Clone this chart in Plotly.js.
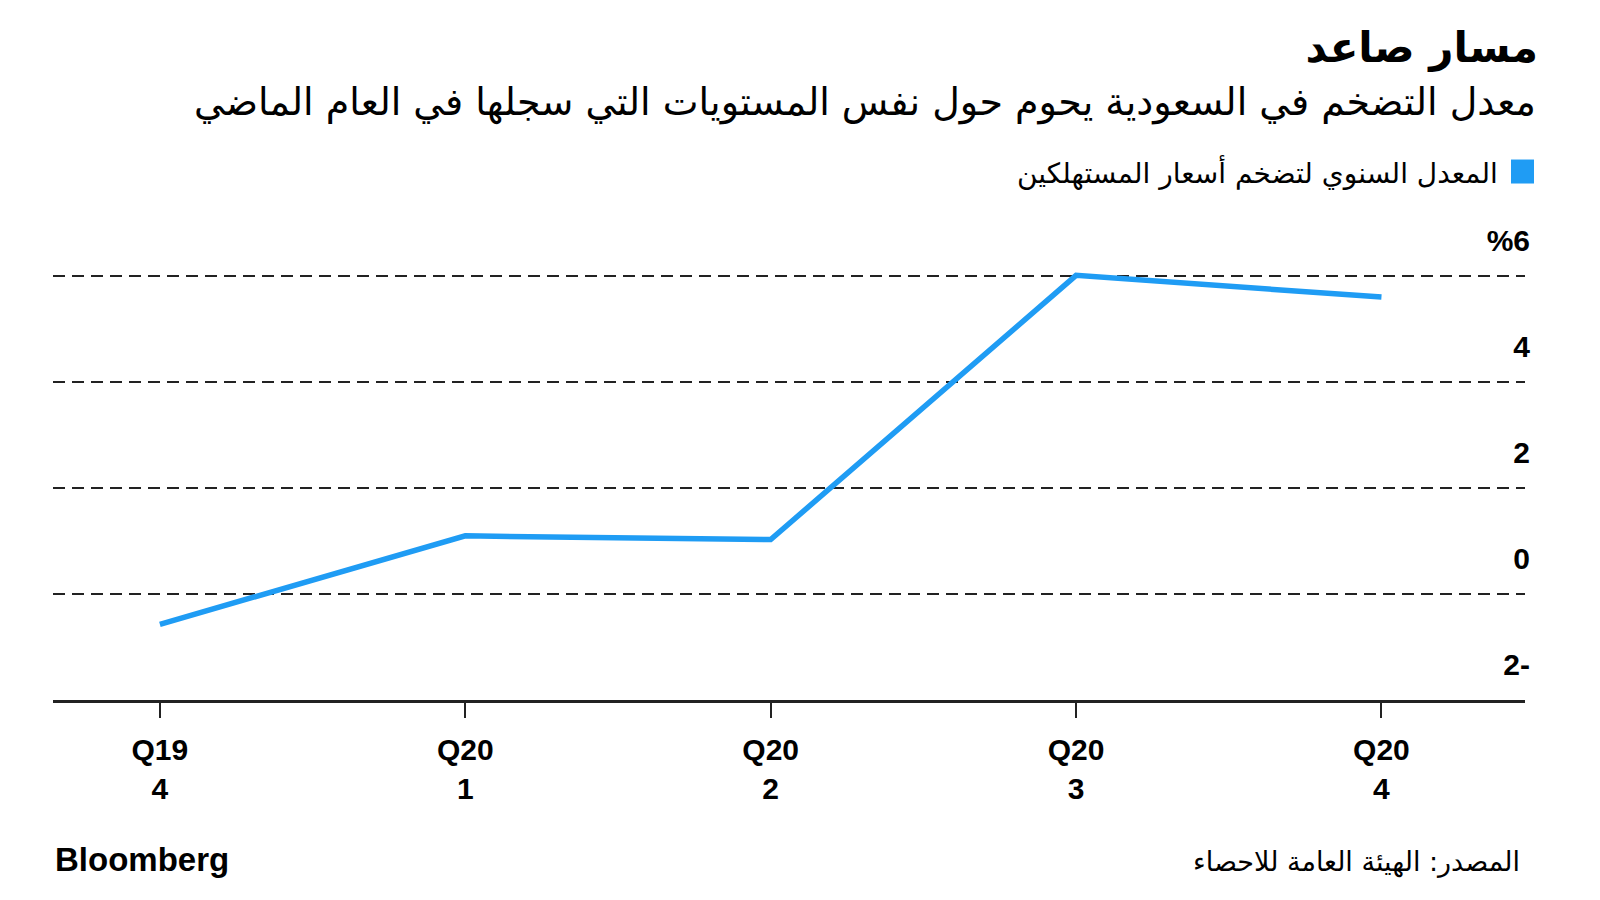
<!DOCTYPE html>
<html>
<head>
<meta charset="utf-8">
<script src="https://cdn.plot.ly/plotly-3.0.1.min.js"></script>
<style>html,body{margin:0;padding:0;background:#fff;}#chart{width:1600px;height:900px;}</style>
</head>
<body>
<div id="chart"></div>
<script>
const categories = ["Q19<br>4", "Q20<br>1", "Q20<br>2", "Q20<br>3", "Q20<br>4"];
const inflation = [-0.57, 1.10, 1.03, 6.02, 5.61];
const yTickVals = [-2, 0, 2, 4, 6];
const yTickText = ["2-", "0", "2", "4", "%6"];

const titleText = "مسار صاعد";
const subtitleText = "معدل التضخم في السعودية يحوم حول نفس المستويات التي سجلها في العام الماضي";
const seriesName = "المعدل السنوي لتضخم أسعار المستهلكين";
const sourceText = "المصدر: الهيئة العامة للاحصاء";
const brandText = "Bloomberg";

const BLUE = "#1f9cf4";
const INK = "#222222";
const AR = "DejaVu Sans, Noto Sans, sans-serif";
const LAT = "Liberation Sans, Arial, sans-serif";

const trace = {
  type: "scatter",
  mode: "lines",
  x: categories,
  y: inflation,
  line: {color: BLUE, width: 5.5},
  showlegend: false,
  hoverinfo: "skip"
};

const layout = {
  width: 1600, height: 900,
  margin: {l: 53, r: 75, t: 196.5, b: 200},
  paper_bgcolor: "#fff", plot_bgcolor: "#fff",
  showlegend: false,
  title: {
    text: "<b>" + titleText + "</b>",
    xref: "container", yref: "container",
    x: 0.96125, xanchor: "right",
    y: 0.948, yanchor: "middle",
    font: {family: AR, size: 42, color: "#000"}
  },
  xaxis: {
    type: "category",
    range: [-0.35, 4.47],
    showgrid: false,
    zeroline: false,
    showline: true, linecolor: INK, linewidth: 3,
    ticks: "outside", ticklen: 15, tickwidth: 2, tickcolor: INK,
    tickfont: {family: LAT, size: 30, color: "#000", weight: "bold"},
    ticklabelstandoff: 6,
    fixedrange: true
  },
  yaxis: {
    side: "right",
    range: [-2, 7.5],
    tickvals: yTickVals,
    ticktext: yTickText,
    ticks: "",
    ticklabelposition: "inside top",
    ticklabelshift: -15,
    ticklabelstandoff: -8,
    tickfont: {family: LAT, size: 30, color: "#000", weight: "bold"},
    showgrid: true, gridcolor: INK, gridwidth: 2, griddash: "12px,7px",
    zeroline: false, showline: false,
    fixedrange: true
  },
  shapes: [
    {type: "rect", xref: "paper", yref: "paper",
     x0: 0.9905, x1: 1.0061, y0: 1.0268, y1: 1.0745,
     fillcolor: BLUE, line: {width: 0}}
  ],
  annotations: [
    {text: subtitleText, xref: "paper", yref: "paper", x: 1.0088, y: 1.1877,
     xanchor: "right", yanchor: "middle", showarrow: false,
     font: {family: AR, size: 38, color: "#000"}},
    {text: seriesName, xref: "paper", yref: "paper", x: 0.983, y: 1.0506,
     xanchor: "right", yanchor: "middle", showarrow: false,
     font: {family: AR, size: 28, color: "#000"}},
    {text: sourceText, xref: "paper", yref: "paper", x: 0.998, y: -0.3217,
     xanchor: "right", yanchor: "middle", showarrow: false,
     font: {family: AR, size: 27, color: "#000"}},
    {text: "<b>" + brandText + "</b>", xref: "paper", yref: "paper", x: 0, y: -0.3178,
     xanchor: "left", yanchor: "middle", showarrow: false,
     font: {family: LAT, size: 33, color: "#000"}}
  ]
};

Plotly.newPlot("chart", [trace], layout, {displayModeBar: false, staticPlot: true});
</script>
</body>
</html>
